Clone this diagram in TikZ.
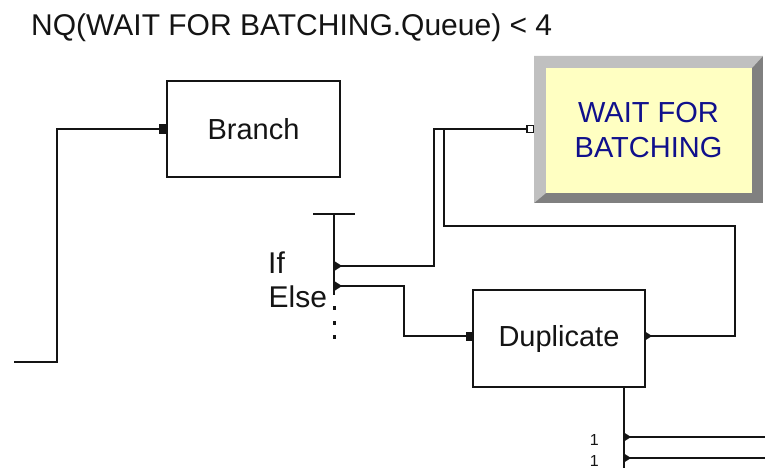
\documentclass[tikz,border=0pt]{standalone}
\usepackage{fontspec}
\setmainfont{Liberation Sans}
\usetikzlibrary{calc}
\definecolor{navy}{RGB}{16,16,140}
\definecolor{qyellow}{RGB}{255,255,194}
\definecolor{bevlight}{RGB}{192,192,192}
\definecolor{bevdark}{RGB}{128,128,128}
\definecolor{ink}{RGB}{20,20,20}
\tikzset{
  modbox/.style={draw=ink, line width=1.8pt, fill=white, inner sep=0pt, text=ink, font=\fontsize{29}{35}\selectfont},
  conn/.style={line width=1.8pt, draw=ink},
  lbl/.style={inner sep=0pt, text=ink, font=\fontsize{30}{36}\selectfont, anchor=base west},
  smalllbl/.style={inner sep=0pt, text=ink, font=\fontsize{16}{18}\selectfont, anchor=base east},
  entrysq/.style={fill=ink},
}
\newcommand\exittri[1]{\fill[ink] (#1) ++(0,-4.5) -- ++(7,4.5) -- ++(-7,4.5) -- cycle;}
\newcommand\entrybox[1]{\fill[ink] (#1) ++(0,-4.5) rectangle ++(8,9);}
\begin{document}
\begin{tikzpicture}[x=1pt,y=-1pt]
\fill[white] (0,0) rectangle (765,468);
\useasboundingbox (0,0) rectangle (765,468);

% title
\node[lbl] (title) at (31,36) {NQ(WAIT FOR BATCHING.Queue) < 4};

% Branch module
\node[modbox, minimum width=173pt, minimum height=96pt] (branch) at (253.5,129) {Branch};

% Duplicate module
\node[modbox, minimum width=172pt, minimum height=97pt] (dup) at (559,338.5) {Duplicate};

% WAIT FOR BATCHING queue (bevelled)
\fill[bevdark] (534,56) rectangle (763,203);
\fill[bevlight] (534,56) -- (763,56) -- (752,68) -- (546,68) -- (546,193) -- (534,203) -- cycle;
\fill[qyellow] (546,68) rectangle (752,193);
\node[inner sep=0pt, minimum width=229pt, minimum height=147pt, align=center, text=navy,
      font=\fontsize{29}{35}\selectfont] (wait) at (648.5,130) {WAIT FOR\\BATCHING};

% Decide symbol
\coordinate (dtl) at (313,214);
\coordinate (dtr) at (355,214);
\coordinate (dtop) at (334,214);
\coordinate (dbot) at (334,295);
\draw[conn] (dtl) -- (dtr);
\draw[conn] (dtop) -- (dbot);
\foreach \yy in {308,323,337} {\fill[ink] (333,\yy-2) rectangle (335.5,\yy+2);}
\node[lbl] (iflbl) at (268,273) {If};
\node[lbl] (elselbl) at (268.5,307) {Else};
\coordinate (ifx) at (335,266);
\coordinate (elsex) at (335,286);

% incoming line to Branch
\coordinate (in0) at (14,362);
\coordinate (branchin) at (159,129);
\draw[conn] (in0) -- (57,362) -- (57,129) -- (branchin);
\entrybox{branchin}

% If -> WAIT FOR BATCHING
\coordinate (waitin) at (527,129);
\draw[conn] (ifx) -| (434,129) -- (waitin);
\exittri{ifx}
\draw[draw=ink, line width=1.3pt, fill=white] (527,125.5) rectangle (533.5,132.5);

% Else -> Duplicate
\coordinate (dupin) at (466,336);
\draw[conn] (elsex) -| (404,336) -- (dupin);
\exittri{elsex}
\entrybox{dupin}

% Duplicate original -> back to WAIT line
\coordinate (dupout) at (645,336);
\coordinate (join) at (444,129);
\draw[conn] (dupout) -- (735,336) -- (735,226) -- (444,226) -- (join);
\exittri{dupout}

% Duplicate copies
\coordinate (dupbot) at (624,387);
\coordinate (ex1) at (624,437);
\coordinate (ex2) at (624,458);
\coordinate (ex1end) at (765,437);
\coordinate (ex2end) at (765,458);
\draw[conn] (dupbot) -- (624,468);
\draw[conn] (ex1) -- (ex1end);
\draw[conn] (ex2) -- (ex2end);
\exittri{ex1}
\exittri{ex2}
\node[smalllbl] (one1) at (599,445) {1};
\node[smalllbl] (one2) at (599,466) {1};
\end{tikzpicture}
\end{document}
